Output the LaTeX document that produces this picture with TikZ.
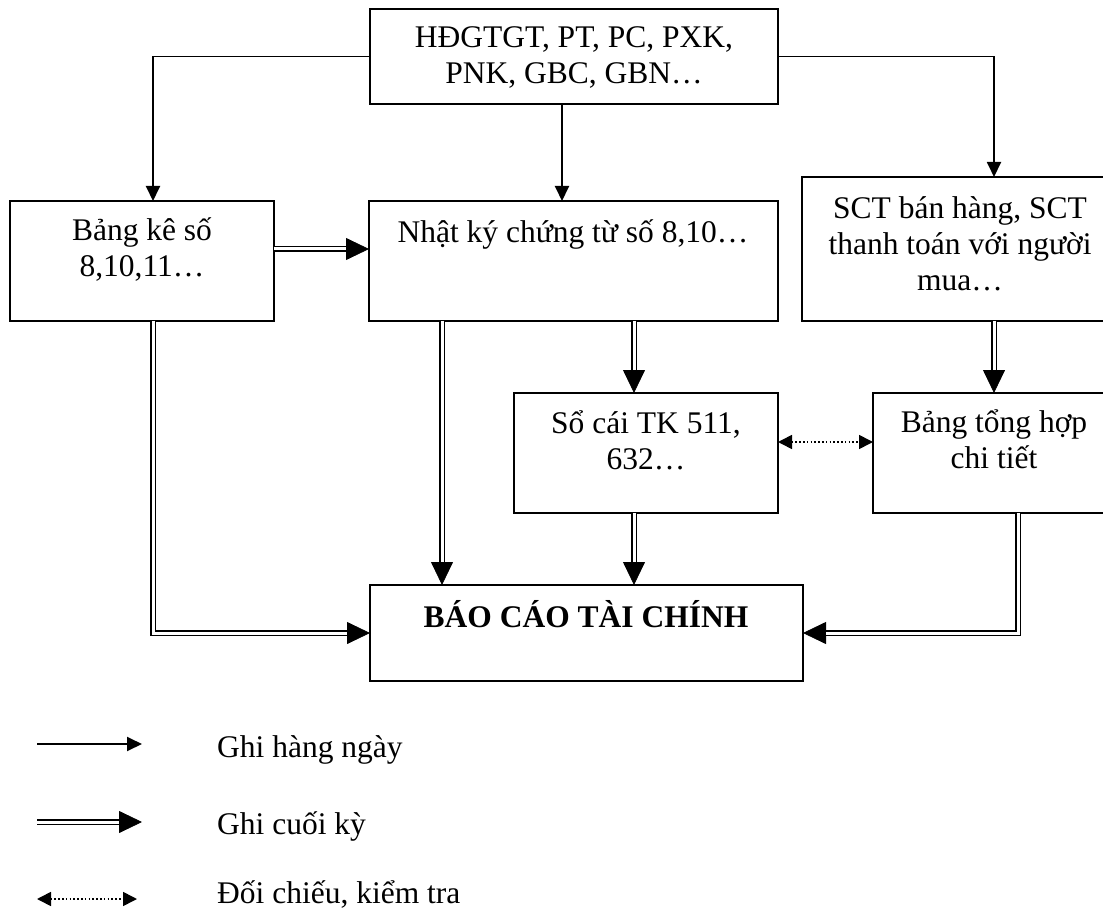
\documentclass[tikz,border=0pt]{standalone}
\usepackage{fontspec}
\setmainfont{Liberation Serif}
\usetikzlibrary{arrows.meta}
% strut that fixes the height of the first text line
\newcommand\bl{\rule{0pt}{30pt}}
% double-line connector: solid head first, then the double shaft over it
\newcommand\dblconn[1]{\draw[dbltip] #1; \draw[dblshaft] #1;}
\begin{document}
\begin{tikzpicture}[x=1pt,y=-1pt,
  box/.style={draw, line width=1.9pt, inner sep=0pt, outer sep=0pt},
  txt/.style={inner sep=0pt, align=center, anchor=north, font=\fontsize{31.5}{36}\selectfont},
  legtxt/.style={inner sep=0pt, anchor=base west, font=\fontsize{31.5}{36}\selectfont},
  daily/.style={line width=1.9pt, -{Triangle[length=15pt,width=14pt]}},
  dbltip/.style={line width=0.8pt, -{Triangle[length=23pt,width=22pt]}},
  dblshaft/.style={double, line width=1.9pt, double distance=3pt, shorten >=23pt},
  check/.style={line width=1.6pt, dash pattern=on 1.6pt off 2.2pt,
    {Triangle[length=14pt,width=14pt]}-{Triangle[length=14pt,width=14pt]}},
]
\useasboundingbox (0,0) rectangle (1103,909);

% boxes
\node[box, minimum width=408pt, minimum height=95pt]  (top)  at (574,56.5)  {};
\node[box, minimum width=264pt, minimum height=120pt] (bk)   at (142,261)   {};
\node[box, minimum width=409pt, minimum height=120pt] (nk)   at (573.5,261) {};
\node[box, minimum width=314pt, minimum height=144pt] (sct)  at (959,249)   {};
\node[box, minimum width=264pt, minimum height=120pt] (sc)   at (646,453)   {};
\node[box, minimum width=243pt, minimum height=120pt] (bth)  at (994.5,453) {};
\node[box, minimum width=433pt, minimum height=96pt]  (bctc) at (586.5,633) {};

% box texts
\node[txt] (top-t)  at (574,17)   {\bl HĐGTGT, PT, PC, PXK,\\PNK, GBC, GBN…};
\node[txt] (bk-t)   at (142,210)  {\bl Bảng kê số\\8,10,11…};
\node[txt] (nk-t)   at (573,212)  {\bl Nhật ký chứng từ số 8,10…};
\node[txt] (sct-t)  at (960,188)  {\bl SCT bán hàng, SCT\\thanh toán với người\\mua…};
\node[txt] (sc-t)   at (646,403)  {\bl Sổ cái TK 511,\\632…};
\node[txt] (bth-t)  at (994,402)  {\bl Bảng tổng hợp\\chi tiết};
\node[txt, font=\fontsize{31.5}{36}\selectfont\bfseries] (bctc-t) at (586,597) {\bl BÁO CÁO TÀI CHÍNH};

% daily entries
\draw[daily] (top.west) -| (153,0 |- bk.north);
\draw[daily] (top.south -| 562,0) -- (nk.north -| 562,0);
\draw[daily] (top.east) -| (994,0 |- sct.north);

% period-end entries
\dblconn{(bk.east |- 0,249) -- (nk.west |- 0,249)}
\dblconn{(153,0 |- bk.south) |- (bctc.west)}
\dblconn{(nk.south -| 442,0) -- (bctc.north -| 442,0)}
\dblconn{(nk.south -| 634,0) -- (sc.north -| 634,0)}
\dblconn{(sc.south -| 634,0) -- (bctc.north -| 634,0)}
\dblconn{(sct.south -| 994,0) -- (bth.north -| 994,0)}
\dblconn{(bth.south -| 1018,0) |- (bctc.east)}

% cross-check
\draw[check] (sc.east |- 0,442) -- (bth.west |- 0,442);

% legend
\coordinate (l1a) at (37,744);  \coordinate (l1b) at (142,744);
\coordinate (l2a) at (37,822);  \coordinate (l2b) at (142,822);
\coordinate (l3a) at (37,899);  \coordinate (l3b) at (137,899);
\draw[daily] (l1a) -- (l1b);
\dblconn{(l2a) -- (l2b)}
\draw[check] (l3a) -- (l3b);
\node[legtxt] (lg1) at (217,757) {Ghi hàng ngày};
\node[legtxt] (lg2) at (217,834) {Ghi cuối kỳ};
\node[legtxt] (lg3) at (217,903) {Đối chiếu, kiểm tra};
\end{tikzpicture}
\end{document}
